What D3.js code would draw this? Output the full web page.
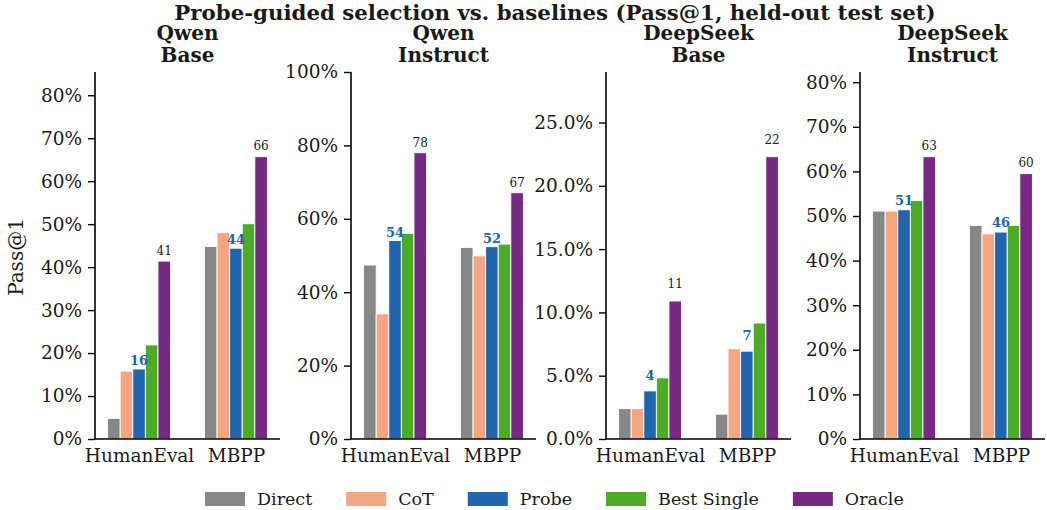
<!DOCTYPE html>
<html lang="en">
<head>
  <meta charset="utf-8">
  <title>Probe-guided selection vs. baselines</title>
  <script src="https://d3js.org/d3.v7.min.js"></script>
  <style>
    body { margin: 0; background: #fff; }
    svg text { font-family: "DejaVu Serif", serif; fill: #1a1a1a; }
  </style>
</head>
<body>
  <div id="chart"></div>
  <script>
    // data (Pass@1, percent)
    var benchmarks = ["HumanEval", "MBPP"];
    var methods = ["Direct", "CoT", "Probe", "Best Single", "Oracle"];
    var colors = ["#878787", "#f4a582", "#2166ac", "#4dac26", "#762a83"];
    var panelTitles = [["Qwen", "Base"], ["Qwen", "Instruct"], ["DeepSeek", "Base"], ["DeepSeek", "Instruct"]];

    // rows = benchmarks, columns = methods
    var qwenBase = [[4.8, 15.8, 16.3, 21.9, 41.4], [44.8, 48.0, 44.4, 50.1, 65.7]];
    var qwenInstruct = [[47.4, 34.1, 54.1, 56.0, 78.0], [52.2, 49.9, 52.4, 53.1, 67.1]];
    var deepseekBase = [[2.4, 2.4, 3.8, 4.83, 10.9], [1.96, 7.13, 6.94, 9.16, 22.3]];
    var deepseekInstruct = [[51.1, 51.1, 51.4, 53.5, 63.3], [47.9, 46.0, 46.4, 47.9, 59.5]];
    var panelData = [qwenBase, qwenInstruct, deepseekBase, deepseekInstruct];

    var tickSteps = [0.1, 0.2, 0.05, 0.1];
    var tickFormats = [".0%", ".0%", ".1%", ".0%"];

    var W = 1047, H = 510;
    var plotTop = 72, plotBottom = 439, panelW = 185;
    var lefts = [95, 351, 606, 860];
    var barW = 0.13;

    var svg = d3.select("#chart").append("svg")
      .attr("width", W)
      .attr("height", H);

    svg.append("text")
      .attr("x", 555)
      .attr("y", 20)
      .attr("text-anchor", "middle")
      .style("font-weight", "bold")
      .style("font-size", "21.3px")
      .text("Probe-guided selection vs. baselines (Pass@1, held-out test set)");

    svg.append("text")
      .attr("transform", "translate(22.5,257) rotate(-90)")
      .attr("text-anchor", "middle")
      .style("font-size", "20px")
      .text("Pass@1");

    panelData.forEach(function (vals, p) {
      var g = svg.append("g").attr("transform", "translate(" + lefts[p] + ",0)");

      var maxV = d3.max(vals, function (r) { return d3.max(r); }) / 100;
      var y = d3.scaleLinear()
        .domain([0, Math.min(1, maxV * 1.3)])
        .range([plotBottom, plotTop]);

      var x = d3.scaleLinear()
        .domain([-0.455, 1.455])
        .range([0, panelW]);

      // bars
      vals.forEach(function (row, b) {
        row.forEach(function (v, m) {
          var cx = b + (m - 2) * barW;
          g.append("rect")
            .attr("x", x(cx - barW / 2))
            .attr("y", y(v / 100))
            .attr("width", x(barW) - x(0))
            .attr("height", plotBottom - y(v / 100))
            .attr("fill", colors[m])
            .attr("stroke", "#fff")
            .attr("stroke-width", 0.9);
        });

        // probe label
        var pv = row[2] / 100;
        g.append("text")
          .attr("x", x(b))
          .attr("y", y(pv + 0.008) - 1)
          .attr("text-anchor", "middle")
          .style("font-size", "13px")
          .style("font-weight", "bold")
          .style("fill", "#2166ac")
          .text(Math.round(row[2]));

        // oracle label
        var ov = row[4] / 100;
        g.append("text")
          .attr("x", x(b + 2 * barW))
          .attr("y", y(ov + 0.008) - 3)
          .attr("text-anchor", "middle")
          .style("font-size", "12px")
          .text(Math.round(row[4]));
      });

      // axes
      var yAxis = d3.axisLeft(y)
        .tickValues(d3.range(0, y.domain()[1] + 1e-9, tickSteps[p]))
        .tickFormat(d3.format(tickFormats[p]))
        .tickSize(7)
        .tickPadding(6);
      var ya = g.append("g").call(yAxis);
      ya.select(".domain").attr("stroke", "#000").attr("stroke-width", 1.6)
        .attr("d", "M0," + plotTop + "V" + plotBottom);
      ya.selectAll(".tick line").attr("stroke", "#000").attr("stroke-width", 1.4);
      ya.selectAll(".tick text").style("font-size", "18.5px").style("font-family", "DejaVu Serif");

      var xAxis = d3.axisBottom(d3.scaleOrdinal().domain(benchmarks).range([x(0), x(1)]))
        .tickSize(0)
        .tickPadding(10);
      var xa = g.append("g").attr("transform", "translate(0," + plotBottom + ")").call(xAxis);
      xa.select(".domain").attr("stroke", "#000").attr("stroke-width", 1.6)
        .attr("d", "M0,0H" + panelW);
      xa.selectAll(".tick text").style("font-size", "18.5px").style("font-family", "DejaVu Serif");

      // panel title
      panelTitles[p].forEach(function (t, i) {
        g.append("text")
          .attr("x", panelW / 2)
          .attr("y", 40 + i * 22)
          .attr("text-anchor", "middle")
          .style("font-weight", "bold")
          .style("font-size", "20px")
          .text(t);
      });
    });

    // legend
    var lx = 205;
    methods.forEach(function (m, i) {
      svg.append("rect")
        .attr("x", lx).attr("y", 492)
        .attr("width", 40).attr("height", 14)
        .attr("fill", colors[i]);
      var t = svg.append("text")
        .attr("x", lx + 52).attr("y", 505)
        .style("font-size", "17.5px")
        .text(m);
      lx += 52 + t.node().getComputedTextLength() + 34;
    });
  </script>
</body>
</html>
